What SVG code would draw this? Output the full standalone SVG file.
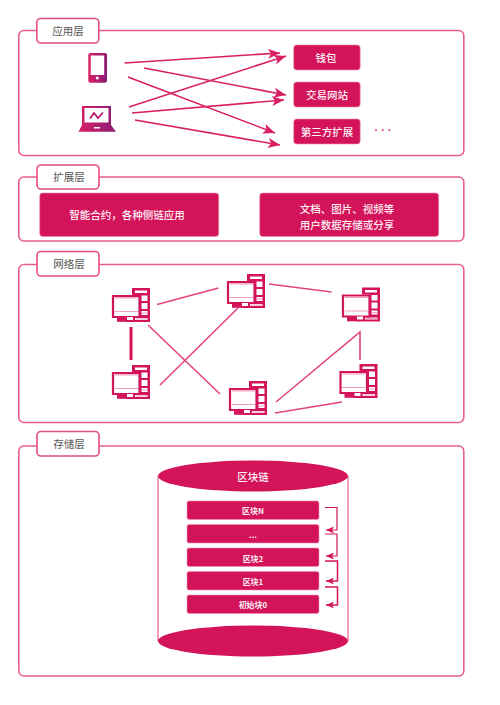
<svg xmlns="http://www.w3.org/2000/svg" width="500" height="705" viewBox="0 0 500 705">
<style>
text{font-family:"Noto Sans CJK SC","Noto Sans",sans-serif;text-anchor:middle;dominant-baseline:central}
.frame{fill:#fff;stroke:#e8608f;stroke-width:1.6}
.tab{fill:#fff;stroke:#e54c84;stroke-width:1.6}
.tabt{fill:#555;font-size:10.5px}
.box{fill:#d3145a;stroke:#ee8fb0;stroke-width:.6}
.wt{fill:#fdeef3;font-size:10.5px;font-weight:500}
.sm{fill:#fdeef3;font-size:8px;font-weight:700}
.arr{fill:none;stroke:#d91f63;stroke-width:1.6;marker-end:url(#ah)}
.net{fill:none;stroke:#e4457f;stroke-width:1.6}
.chain{fill:none;stroke:#d3145a;stroke-width:1.2;marker-end:url(#ah2)}
.pcl{fill:none;stroke:#f0a0bd;stroke-width:1.2}
</style>
<defs>
<linearGradient id="g" x1="0" x2="1" y1="0" y2="0"><stop offset="0" stop-color="#d91f63"/><stop offset="1" stop-color="#8c1c78"/></linearGradient>
<marker id="ah" markerUnits="userSpaceOnUse" markerWidth="14" markerHeight="12" refX="12" refY="5" orient="auto" viewBox="0 0 14 10"><path d="M0 0L12 5L0 10L3 5Z" fill="#d91f63"/></marker>
<marker id="ah2" markerUnits="userSpaceOnUse" markerWidth="9" markerHeight="8" refX="8" refY="3.5" orient="auto" viewBox="0 0 9 7"><path d="M0 0L8 3.5L0 7L2 3.5Z" fill="#d3145a"/></marker>
<g id="pc">
<path d="M20 0H38V34H14V29H28V7H20Z" fill="#d3145a"/>
<path d="M23 2.500H35V5H23Z" fill="#fff"/>
<path d="M29.500 7.500H35.500V13H29.500ZM29.500 15H35.500V21H29.500ZM29.500 23H35.500V27H29.500ZM23 30H35.500V32H23Z" fill="#fff"/>
<path class="pcl" d="M24 31H35.500M30 25H35.500"/>
<path d="M1 8H27.500V29H1Z" fill="#fff" stroke="#d3145a" stroke-width="2.200"/>
<path class="pcl" d="M2.500 23.500H26M3 9.800H26"/>
<path d="M5 29H15V33.800H5Z" fill="#d3145a"/>
<path d="M15 29H21V32H15Z" fill="#fff"/>
</g>
</defs>
<rect width="500" height="705" fill="#fff"/>

<g id="layer-app">
<rect class="frame" x="18.800" y="30.500" width="445" height="125" rx="5"/>
<rect class="tab" x="36.800" y="18.500" width="62" height="24.500" rx="4"/>
<text class="tabt" x="68" y="30.500">应用层</text>
</g>
<g id="phone">
<rect x="88.300" y="53" width="18.700" height="29.700" rx="2" fill="url(#g)"/>
<rect x="90.700" y="55.500" width="13.500" height="19.500" fill="#fff"/>
<circle cx="97.300" cy="78" r="1.500" fill="#fff"/>
</g>
<g id="laptop">
<path d="M82 106H111V125L116 131.700H78.500L82 125Z" fill="url(#g)"/>
<rect x="84.500" y="108" width="24" height="14.500" fill="#fff"/>
<path d="M90 118.500L94 113L98 118L103 112.500" fill="none" stroke="#b41c6c" stroke-width="1.800"/>
<rect x="94" y="127" width="6" height="1.500" fill="#fff"/>
</g>
<g id="wallet"><rect class="box" x="293.700" y="45" width="66.500" height="25" rx="3"/><text class="wt" x="326" y="57">钱包</text></g>
<g id="exchange"><rect class="box" x="293.700" y="82" width="66.500" height="25" rx="3"/><text class="wt" x="327" y="94.500">交易网站</text></g>
<g id="third"><rect class="box" x="293.700" y="119" width="66.500" height="25" rx="3"/><text class="wt" x="327" y="131.500">第三方扩展</text></g>
<text x="384.500" y="130" fill="#d91f63" style="font-family:'Liberation Sans',sans-serif;font-size:11px;font-weight:700" letter-spacing="3">···</text>

<g id="layer-ext">
<rect class="frame" x="18.800" y="177" width="445" height="64" rx="5"/>
<rect class="tab" x="37" y="165" width="62" height="24" rx="4"/>
<text class="tabt" x="69" y="176.500">扩展层</text>
</g>
<g id="contracts"><rect class="box" x="39.700" y="193" width="179" height="43.500" rx="3"/><text class="wt" x="127" y="214.500">智能合约，各种侧链应用</text></g>
<g id="storage-app"><rect class="box" x="259.700" y="193" width="179" height="43.500" rx="3"/><text class="wt" x="347" y="208">文档、图片、视频等</text><text class="wt" x="347" y="224">用户数据存储或分享</text></g>

<g id="layer-net">
<rect class="frame" x="18.800" y="264.500" width="445" height="158" rx="5"/>
<rect class="tab" x="37" y="251.500" width="62" height="24.500" rx="4"/>
<text class="tabt" x="69" y="263.500">网络层</text>
</g>

<g id="layer-store">
<rect class="frame" x="18.800" y="446" width="445" height="230" rx="5"/>
<rect class="tab" x="37" y="431.500" width="62" height="24.500" rx="4"/>
<text class="tabt" x="69" y="443.500">存储层</text>
</g>

<use id="pc1" href="#pc" x="112" y="288"/>
<use id="pc2" href="#pc" x="227" y="274"/>
<use id="pc3" href="#pc" x="342" y="287.500"/>
<use id="pc4" href="#pc" x="112" y="365"/>
<use id="pc5" href="#pc" x="229" y="381"/>
<use id="pc6" href="#pc" x="339.500" y="364"/>

<g id="cylinder">
<path d="M158 476V641M348 476V641" stroke="#e8608f" stroke-width="1.200" fill="none"/>
<ellipse cx="253" cy="476" rx="95" ry="15.500" fill="#d3145a"/>
<ellipse cx="253" cy="641" rx="95" ry="15.500" fill="#d3145a"/>
<text class="wt" x="253" y="476">区块链</text>
</g>
<g id="blockN"><rect class="box" x="187" y="501" width="132" height="18.500" rx="2"/><text class="sm" x="253" y="510.500">区块N</text></g>
<g id="blockDots"><rect class="box" x="187" y="524.500" width="132" height="18.500" rx="2"/><text class="sm" x="253" y="534">...</text></g>
<g id="block2"><rect class="box" x="187" y="548" width="132" height="18.500" rx="2"/><text class="sm" x="253" y="558">区块2</text></g>
<g id="block1"><rect class="box" x="187" y="571.500" width="132" height="18.500" rx="2"/><text class="sm" x="253" y="581">区块1</text></g>
<g id="block0"><rect class="box" x="187" y="595" width="132" height="18.500" rx="2"/><text class="sm" x="253" y="604.500">初始块0</text></g>

<g id="connectors">
<path class="arr" d="M124.500 63L280 53"/>
<path class="arr" d="M129 107L286 56"/>
<path class="arr" d="M144 68L286 95"/>
<path class="arr" d="M132 113L284 100"/>
<path class="arr" d="M128 77L275 133"/>
<path class="arr" d="M135 120L280 145"/>
<path class="net" d="M157 304.500L218.500 288"/>
<path class="net" style="stroke-width:3;stroke:#d3145a" d="M131 327V360"/>
<path class="net" d="M148 325L220 394"/>
<path class="net" d="M160 385L238 308"/>
<path class="net" d="M269 284L331.500 292"/>
<path class="net" d="M276 402L360 332V360"/>
<path class="net" d="M275 413L342 402"/>
<path class="chain" d="M325 507.500H337V530H326"/>
<path class="chain" d="M325 534H337V556H326"/>
<path class="chain" style="stroke-width:1.500" d="M325 561H337.500V581H326"/>
<path class="chain" style="stroke-width:1.500" d="M325 587H337.500V605H326"/>
</g>
</svg>
